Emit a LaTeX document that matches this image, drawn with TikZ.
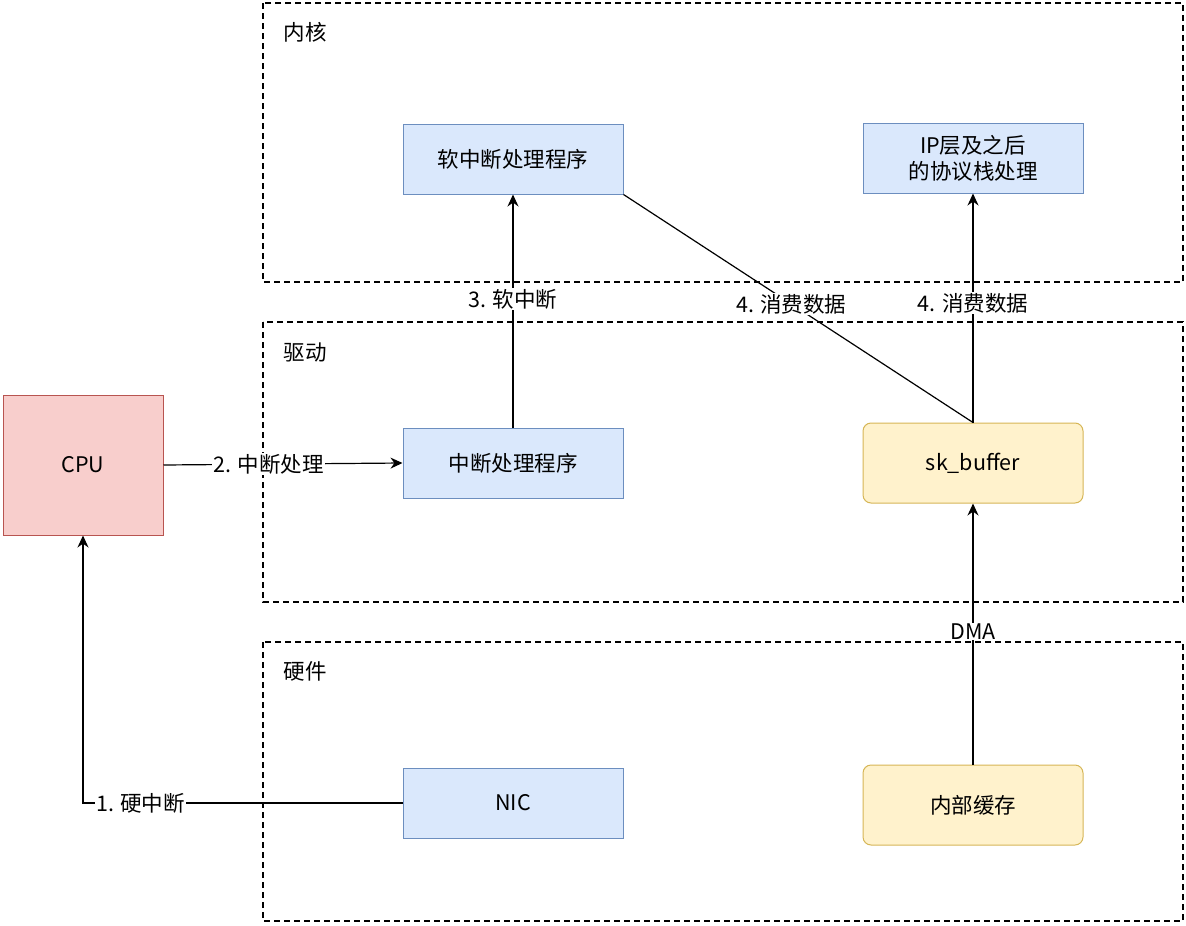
\documentclass[tikz,border=0pt]{standalone}
\usepackage{fontspec}
\setmainfont{Noto Sans CJK SC}
\usetikzlibrary{positioning,arrows.meta}
\definecolor{cpufill}{HTML}{F8CECC}
\definecolor{cpuline}{HTML}{B85450}
\definecolor{bluefill}{HTML}{DAE8FC}
\definecolor{blueline}{HTML}{6C8EBF}
\definecolor{yelfill}{HTML}{FFF2CC}
\definecolor{yelline}{HTML}{D6B656}
\tikzset{
  layer/.style={draw, dash pattern=on 6pt off 4pt, line width=1.2pt},
  proc/.style={rectangle, draw=blueline, fill=bluefill, minimum width=220pt, minimum height=70pt, line width=1pt},
  buf/.style={rectangle, rounded corners=8pt, draw=yelline, fill=yelfill, minimum width=220pt, minimum height=80pt, line width=1pt},
  lbl/.style={fill=white, inner sep=1pt},
  link/.style={line width=1.2pt, -{Stealth[length=12pt,width=11pt]}}
}
\begin{document}
\begin{tikzpicture}[x=1pt, y=-1pt, font=\fontsize{21.5}{26}\selectfont]
  \useasboundingbox (0,0) rectangle (1186,926);
  % layers
  \draw[layer] (263,3) rectangle (1183,282);
  \draw[layer] (263,322) rectangle (1183,602);
  \draw[layer] (263,642) rectangle (1183,921);
  \node[anchor=west] (kernel) at (280,32) {内核};
  \node[anchor=west] (driver) at (280,352) {驱动};
  \node[anchor=west] (hw) at (280,671) {硬件};
  % nodes
  \node[rectangle, draw=cpuline, fill=cpufill, minimum width=160pt, minimum height=140pt, line width=1pt] (cpu) at (83,465) {CPU};
  \node[proc] (softirq) at (513,159) {软中断处理程序};
  \node[proc, align=center] (ip) at (973,158) {IP层及之后\\的协议栈处理};
  \node[proc] (irq) at (513,463) {中断处理程序};
  \node[buf] (skb) at (973,463) {sk\_buffer};
  \node[proc] (nic) at (513,803) {NIC};
  \node[buf] (cache) at (973,805) {内部缓存};
  % arrows
  \draw[link] (nic.west) -| node[lbl, pos=0.41] {1. 硬中断} (cpu.south);
  \draw[link] (cpu.east) -- node[lbl, pos=0.44] {2. 中断处理} (irq.west);
  \draw[link] (irq.north) -- node[lbl, pos=0.55] {3. 软中断} (softirq.south);
  \draw[link] (skb.north) -- node[lbl, pos=0.52] {4. 消费数据} (ip.south);
  \draw[line width=1.2pt] (softirq.south east) -- node[lbl, pos=0.48] {4. 消费数据} (skb.north);
  \draw[link] (cache.north) -- node[lbl, pos=0.51] {DMA} (skb.south);
\end{tikzpicture}
\end{document}
